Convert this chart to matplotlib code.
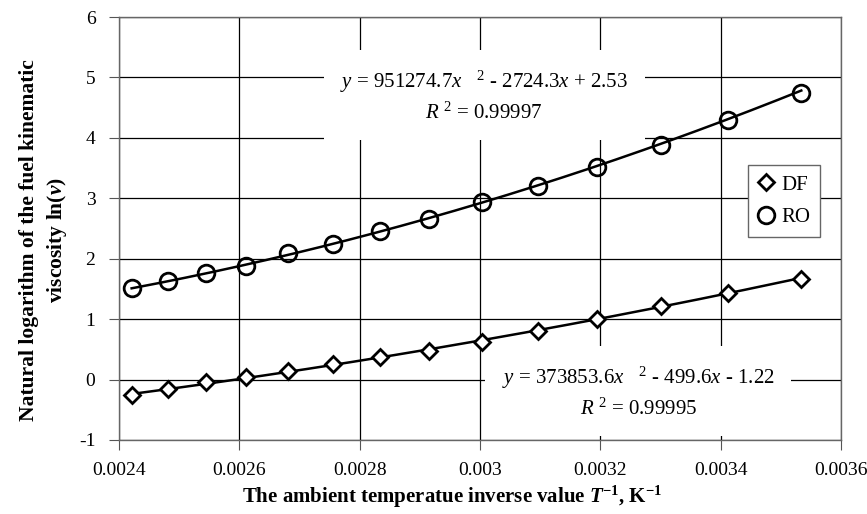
import matplotlib
matplotlib.use("Agg")
import matplotlib.pyplot as plt
import numpy as np

# ---- data ----
x_inv_T = [0.002421, 0.002481, 0.002545, 0.002611, 0.002681, 0.002755, 0.002833,
           0.002915, 0.003003, 0.003096, 0.003195, 0.003300, 0.003413, 0.003534]
ln_df = [-0.25, -0.15, -0.04, 0.04, 0.15, 0.25, 0.37, 0.48, 0.63, 0.80, 1.00, 1.21, 1.43, 1.67]
ln_ro = [1.51, 1.63, 1.76, 1.88, 2.09, 2.25, 2.46, 2.66, 2.94, 3.20, 3.52, 3.89, 4.29, 4.75]

# trend-line coefficients as printed on the chart
coef_df = [373853.6, -499.6, -1.22]
coef_ro = [951274.7, -2724.3, 2.53]

x_ticks = [0.0024, 0.0026, 0.0028, 0.0030, 0.0032, 0.0034, 0.0036]
x_tick_labels = ['0.0024', '0.0026', '0.0028', '0.003', '0.0032', '0.0034', '0.0036']
y_ticks = [-1, 0, 1, 2, 3, 4, 5, 6]
y_tick_labels = ['-1', '0', '1', '2', '3', '4', '5', '6']

plt.rcParams['font.family'] = ['Liberation Serif', 'DejaVu Serif']
plt.rcParams['axes.unicode_minus'] = False
plt.rcParams['mathtext.fontset'] = 'custom'
plt.rcParams['mathtext.rm'] = 'Liberation Serif'
plt.rcParams['mathtext.it'] = 'Liberation Serif:italic'
plt.rcParams['mathtext.bf'] = 'Liberation Serif:bold'
plt.rcParams['mathtext.bfit'] = 'Liberation Serif:bold:italic'

fig = plt.figure(figsize=(8.67, 5.14), dpi=100)
ax = fig.add_axes([119/867, 1-440/514, (841-119)/867, (440-17)/514])

ax.set_xlim(0.0024, 0.0036)
ax.set_ylim(-1, 6)
ax.set_xticks(x_ticks)
ax.set_xticklabels(x_tick_labels)
ax.set_yticks(y_ticks)
ax.set_yticklabels(y_tick_labels)
ax.grid(True, color='black', lw=0.9, zorder=0)
ax.set_axisbelow(True)
for s in ax.spines.values():
    s.set_color('#666666')
    s.set_linewidth(1.0)
ax.tick_params(direction='out', length=7, color='#555555', labelsize=14)
ax.tick_params(axis='x', pad=9)
ax.tick_params(axis='y', pad=10)

xs = np.array(x_inv_T)
xf = np.linspace(xs.min(), xs.max(), 200)
ax.plot(xf, np.polyval(coef_df, xf), color='black', lw=1.8, zorder=3)
ax.plot(xf, np.polyval(coef_ro, xf), color='black', lw=1.8, zorder=3)

ax.plot(x_inv_T, ln_df, linestyle='none', marker='D', ms=8, mfc='white', mec='black',
        mew=2, zorder=4, label='DF')
ax.plot(x_inv_T, ln_ro, linestyle='none', marker='o', ms=12, mfc='none', mec='black',
        mew=2, zorder=4, label='RO')

box = dict(facecolor='white', edgecolor='none', pad=12)
ax.text(0.003007, 4.69,
        '$y$ = 951274.7$x$   $^{2}$ - 2724.3$x$ + 2.53\n$R$ $^{2}$ = 0.99997',
        ha='center', va='center', multialignment='center', fontsize=15,
        linespacing=1.45, bbox=box, zorder=2)
ax.text(0.003263, -0.21,
        '$y$ = 373853.6$x$   $^{2}$ - 499.6$x$ - 1.22\n$R$ $^{2}$ = 0.99995',
        ha='center', va='center', multialignment='center', fontsize=15,
        linespacing=1.45, bbox=box, zorder=2)

leg = ax.legend(loc='center', bbox_to_anchor=((784-119)/722, 1-(201-17)/423),
                fontsize=15, fancybox=False, framealpha=1, edgecolor='#666666',
                handlelength=0.8, handletextpad=0.3, borderpad=0.5, labelspacing=0.6,
                borderaxespad=0)
leg.get_frame().set_linewidth(1.0)
leg.set_zorder(5)

fig.text(452/867, 1-497/514,
         r'The ambient temperatue inverse value $\mathbfit{T}$$^{\mathbf{-1}}$, K$^{\mathbf{-1}}$',
         ha='center', va='center', fontsize=15, fontweight='bold')
fig.text(44/867, 1-240/514,
         'Natural logarithm of the fuel kinematic\nviscosity ln($\\mathbfit{v}$)',
         ha='center', va='center', rotation=90, multialignment='center',
         fontsize=15.5, fontweight='bold', linespacing=1.3)

fig.savefig('out.png', dpi=100)
